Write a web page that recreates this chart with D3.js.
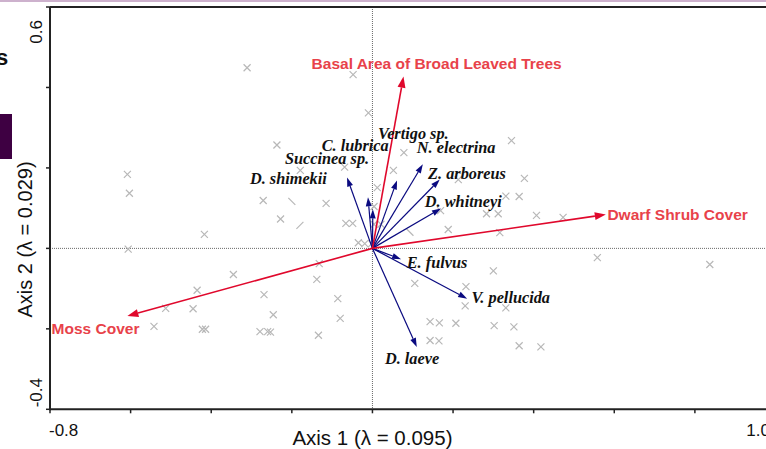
<!DOCTYPE html>
<html><head><meta charset="utf-8">
<script src="https://cdn.jsdelivr.net/npm/d3@7"></script>
<style>body{margin:0;background:#fff;}svg{display:block;}</style>
</head><body>
<svg id="c" width="766" height="449"></svg>
<script>
// Site scores (gray x markers)
const siteX = [-0.311,-0.048,-0.010,-0.237,-0.608,-0.603,-0.179,-0.069,-0.271,-0.115,0.012,0.345,0.078,0.052,0.377,0.213,0.331,0.364,0.004,0.169,0.283,0.312,0.407,0.473,-0.228,-0.066,-0.049,-0.417,-0.035,-0.019,-0.002,-0.606,-0.345,-0.132,-0.138,-0.435,-0.269,-0.086,-0.513,-0.445,-0.246,-0.080,-0.542,-0.422,-0.414,-0.279,-0.260,-0.253,-0.134,0.004,0.021,0.188,0.316,0.558,0.837,0.300,0.105,0.232,0.230,0.331,0.143,0.166,0.207,0.302,0.351,0.143,0.165,0.364,0.418];
const siteY = [0.449,0.432,0.337,0.257,0.184,0.137,0.194,0.202,0.119,0.112,0.151,0.268,0.238,0.194,0.174,0.171,0.130,0.129,0.104,0.094,0.086,0.086,0.082,0.077,0.073,0.062,0.062,0.035,0.014,0.012,0.012,-0.002,-0.065,-0.038,-0.077,-0.104,-0.115,-0.125,-0.149,-0.150,-0.165,-0.174,-0.194,-0.201,-0.201,-0.207,-0.207,-0.208,-0.216,0.060,0.060,0.047,0.039,-0.023,-0.040,-0.056,-0.087,-0.095,-0.143,-0.148,-0.182,-0.185,-0.186,-0.192,-0.195,-0.229,-0.230,-0.242,-0.245];
// partially drawn site markers (single stroke)
const partX = [-0.200,-0.180,0.093];
const partY = [0.117,0.057,0.040];
const partDir = ["\\","/","\\"];

// Environmental variables (biplot arrows)
const envNames = ["Basal Area of Broad Leaved Trees","Dwarf Shrub Cover","Moss Cover"];
const envX = [0.077,0.579,-0.608];
const envY = [0.427,0.084,-0.168];
const envLabelX = [-0.151,0.583,-0.796];
const envLabelY = [0.447,0.070,-0.214];

// Species arrows
const spNames = ["D. shimekii","Succinea sp.","C. lubrica","Vertigo sp.","N. electrina","Z. arboreus","D. whitneyi","E. fulvus","V. pellucida","D. laeve"];
const spX = [-0.063,-0.011,0.001,0.061,0.125,0.167,0.170,0.071,0.235,0.110];
const spY = [0.176,0.127,0.097,0.169,0.209,0.171,0.099,-0.027,-0.125,-0.245];
const spLabelX = [-0.304,-0.217,-0.126,0.014,0.110,0.138,0.130,0.085,0.246,0.031];
const spLabelY = [0.159,0.209,0.242,0.271,0.236,0.173,0.104,-0.048,-0.137,-0.288];

const xTicks = [-0.8,-0.6,-0.4,-0.2,0,0.2,0.4,0.6,0.8,1.0];
const yTicks = [-0.4,-0.2,0,0.2,0.4,0.6];
const xTickLabels = ["-0.8","1.0"];
const yTickLabels = ["-0.4","0.6"];
const xTitle = "Axis 1 (\u03bb = 0.095)";
const yTitle = "Axis 2 (\u03bb = 0.029)";

const svg = d3.select("#c");
const x = d3.scaleLinear().domain([-0.8,1.0]).range([50,775.5]);
const y = d3.scaleLinear().domain([-0.4,0.6]).range([409.3,7]);

// page artifacts
svg.append("rect").attr("x",0).attr("y",0).attr("width",766).attr("height",2).attr("fill","#cdb1cd");
svg.append("rect").attr("x",0).attr("y",114).attr("width",12).attr("height",45).attr("fill","#3e0042");
svg.append("text").attr("x",-4).attr("y",65).attr("font-family","Liberation Sans, Arial").attr("font-weight","bold").attr("font-size",22).attr("fill","#111").text("s");

// zero lines
svg.append("line").attr("x1",x(0)).attr("x2",x(0)).attr("y1",y(0.6)).attr("y2",y(-0.4))
  .attr("stroke","#444").attr("stroke-width",0.8).attr("stroke-dasharray","1,1");
svg.append("line").attr("x1",x(-0.8)).attr("x2",766).attr("y1",y(0)).attr("y2",y(0))
  .attr("stroke","#444").attr("stroke-width",0.8).attr("stroke-dasharray","1,1");

// sites
const sites = siteX.map((v,i)=>({x:v,y:siteY[i]}));
const sg = svg.append("g").attr("stroke","#b8b8b8").attr("stroke-width",1.2);
sites.forEach(d=>{
  const cx=x(d.x), cy=y(d.y), r=3.5;
  sg.append("path").attr("d",`M${cx-r},${cy-r}L${cx+r},${cy+r}M${cx-r},${cy+r}L${cx+r},${cy-r}`);
});
partX.forEach((v,i)=>{
  const cx=x(v), cy=y(partY[i]), r=3.5;
  const p = partDir[i]==="/" ? `M${cx-r},${cy+r}L${cx+r},${cy-r}` : `M${cx-r},${cy-r}L${cx+r},${cy+r}`;
  sg.append("path").attr("d",p);
});

function arrow(g, x1,y1,x2,y2,color,lw,hl,hw){
  const a=Math.atan2(y2-y1,x2-x1);
  const bx=x2-hl*Math.cos(a), by=y2-hl*Math.sin(a);
  g.append("line").attr("x1",x1).attr("y1",y1).attr("x2",bx).attr("y2",by)
    .attr("stroke",color).attr("stroke-width",lw);
  const px=-Math.sin(a)*hw/2, py=Math.cos(a)*hw/2;
  g.append("path").attr("d",`M${x2},${y2}L${bx+px},${by+py}L${bx-px},${by-py}Z`).attr("fill",color);
}

// species arrows
const ag = svg.append("g");
spX.forEach((v,i)=>arrow(ag,x(0),y(0),x(v),y(spY[i]),"#0a0a80",1.2,9,6));
// env arrows
envX.forEach((v,i)=>arrow(ag,x(0),y(0),x(v),y(envY[i]),"#e0082c",1.6,11,8));

// labels
spNames.forEach((n,i)=>{
  svg.append("text").attr("x",x(spLabelX[i])).attr("y",y(spLabelY[i]))
    .attr("font-family","Liberation Serif, Times New Roman, serif").attr("font-style","italic").attr("font-weight","bold")
    .attr("font-size",16.3).attr("fill","#111").text(n);
});
envNames.forEach((n,i)=>{
  svg.append("text").attr("x",x(envLabelX[i])).attr("y",y(envLabelY[i]))
    .attr("font-family","Liberation Sans, Arial, sans-serif").attr("font-weight","bold")
    .attr("font-size",15.5).attr("fill","#e8424a").text(n);
});

// frame
const fc="#222";
svg.append("line").attr("x1",x(-0.8)).attr("x2",766).attr("y1",y(0.6)).attr("y2",y(0.6)).attr("stroke",fc).attr("stroke-width",2);
svg.append("line").attr("x1",x(-0.8)).attr("x2",766).attr("y1",y(-0.4)).attr("y2",y(-0.4)).attr("stroke",fc).attr("stroke-width",2);
svg.append("line").attr("x1",x(-0.8)).attr("x2",x(-0.8)).attr("y1",y(0.6)).attr("y2",y(-0.4)+1).attr("stroke",fc).attr("stroke-width",2);
// ticks
xTicks.forEach(t=>svg.append("line").attr("x1",x(t)).attr("x2",x(t)).attr("y1",y(-0.4)).attr("y2",y(-0.4)+4).attr("stroke",fc).attr("stroke-width",1.5));
yTicks.forEach(t=>svg.append("line").attr("x1",x(-0.8)-4).attr("x2",x(-0.8)).attr("y1",y(t)).attr("y2",y(t)).attr("stroke",fc).attr("stroke-width",1.5));

const af="Liberation Sans, Arial, sans-serif";
svg.append("text").attr("x",x(-0.8)-1).attr("y",y(-0.4)+27).attr("font-family",af).attr("font-size",17).attr("fill","#111").text(xTickLabels[0]);
svg.append("text").attr("x",770).attr("y",y(-0.4)+27).attr("text-anchor","end").attr("font-family",af).attr("font-size",17).attr("fill","#111").text(xTickLabels[1]);
svg.append("text").attr("transform",`translate(${x(-0.8)-8},${y(0.6)+13}) rotate(-90)`).attr("text-anchor","end").attr("font-family",af).attr("font-size",17).attr("fill","#111").text(yTickLabels[1]);
svg.append("text").attr("transform",`translate(${x(-0.8)-8},${y(-0.4)-2}) rotate(-90)`).attr("text-anchor","start").attr("font-family",af).attr("font-size",17).attr("fill","#111").text(yTickLabels[0]);
svg.append("text").attr("x",x(0)).attr("y",445).attr("text-anchor","middle").attr("font-family",af).attr("font-size",20.5).attr("fill","#111").text(xTitle);
svg.append("text").attr("transform",`translate(32,${y(0.022)}) rotate(-90)`).attr("text-anchor","middle").attr("font-family",af).attr("font-size",20).attr("fill","#111").text(yTitle);
</script>
</body></html>
